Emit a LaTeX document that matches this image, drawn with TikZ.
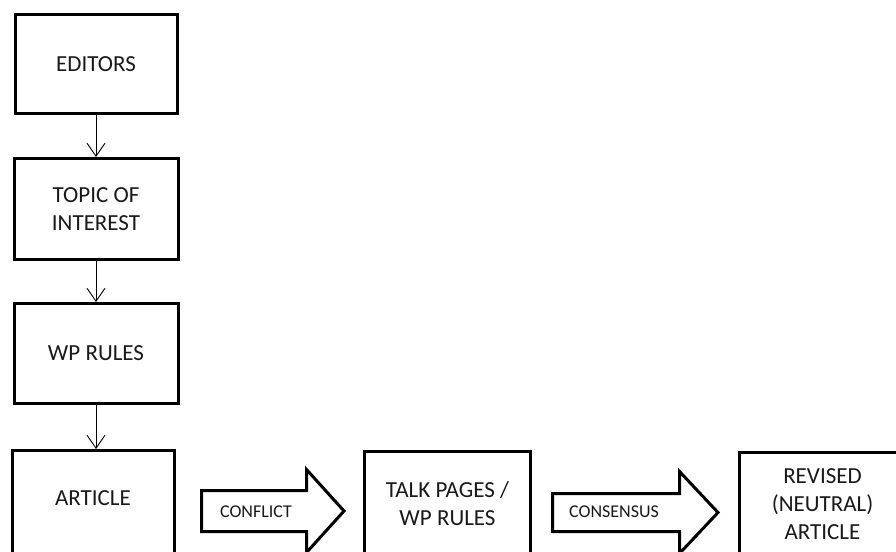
\documentclass[tikz,border=0pt]{standalone}
\usepackage{fontspec}
\setmainfont{Carlito}
\usepackage{tikz}
\usetikzlibrary{positioning}
\usetikzlibrary{calc}
\usetikzlibrary{arrows.meta}

\begin{document}
\begin{tikzpicture}[x=1pt,y=-1pt,
  box/.style={draw,line width=3pt,minimum width=164pt,minimum height=100pt,align=center,text=black!90,font=\fontsize{23}{28}\selectfont},
  flow/.style={-{Straight Barb[length=13pt,width=18pt]},line width=0.9pt},
  bigarrow/.style={draw,line width=3pt,line join=miter},
  arrowtext/.style={text=black!90,font=\fontsize{18}{22}\selectfont}]
\useasboundingbox (0,0) rectangle (896,551);
%%%%%%%%%%%%%%
\node[box,minimum width=162pt,minimum height=99pt] (editors) at (96,64) {EDITORS};
\node[box,minimum height=101pt] (topic) at (96,209) {TOPIC OF\\INTEREST};
\node[box] (wprules) at (96,353.5) {WP RULES};
\node[box,minimum width=162pt,minimum height=104pt,text depth=9pt] (article) at (93,502.5) {ARTICLE};
%%%%%%%%%%%%%%
\node[box,minimum width=166pt,minimum height=104pt] (talk) at (447.5,503.5) {TALK PAGES /\\WP RULES};
\node[box,minimum width=166pt,minimum height=104pt] (revised) at (822.5,504.5) {REVISED\\(NEUTRAL)\\ARTICLE};
%%%%%%%%%%%%%%%%%%%%%%%%%%%%%%%%%%%%%%%%%%

\draw[flow] (editors) -- (topic);
\draw[flow] (topic) -- (wprules);
\draw[flow] (wprules.south) -- (wprules.south |- article.north);

%%%%%%%%%%%%%%%%%%%%%%%%%%
\draw[bigarrow] (201.5,490.5) -- (306.5,490.5) -- (306.5,469.5) -- (344,511) -- (306.5,552.5) -- (306.5,531.5) -- (201.5,531.5) -- cycle;
\node[arrowtext] (conflict) at (256,512) {CONFLICT};
\draw[bigarrow] (552.5,493.5) -- (679.5,493.5) -- (679.5,471.5) -- (718,512.5) -- (679.5,553.5) -- (679.5,531.5) -- (552.5,531.5) -- cycle;
\node[arrowtext] (consensus) at (614,512) {CONSENSUS};

\end{tikzpicture}
\end{document}
